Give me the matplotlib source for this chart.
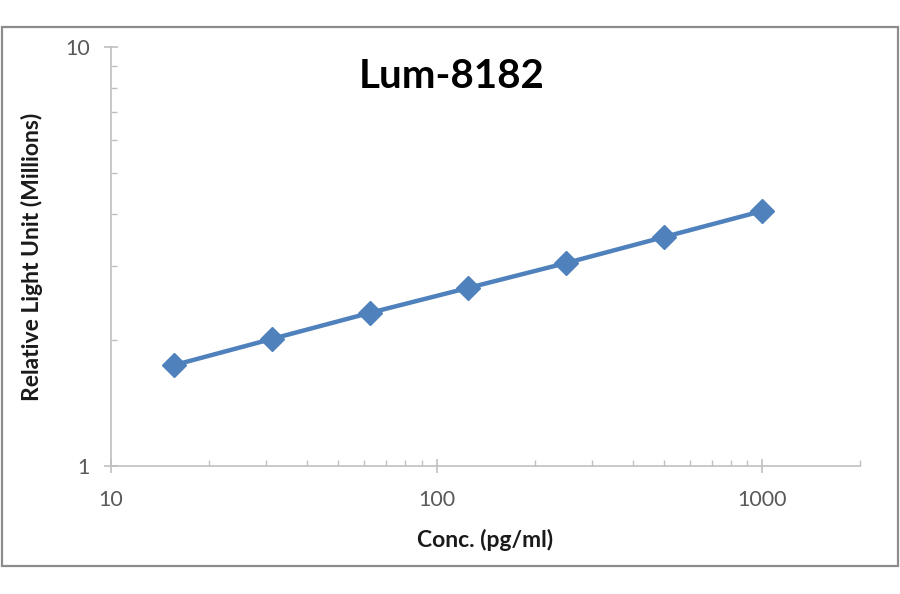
import matplotlib.pyplot as plt
from matplotlib.patches import Rectangle
from matplotlib.ticker import LogLocator, FixedLocator, NullFormatter

conc = [15.625, 31.25, 62.5, 125, 250, 500, 1000]
rlu = [1.74, 2.01, 2.32, 2.66, 3.05, 3.52, 4.06]
x_ticks = [10, 100, 1000]
x_tick_labels = ["10", "100", "1000"]
y_ticks = [1, 10]
y_tick_labels = ["1", "10"]

plt.rcParams['font.family'] = ['Lato', 'DejaVu Sans']

fig = plt.figure(figsize=(9, 5.94), dpi=100)
ax = fig.add_axes([0.123, 0.2155, 0.833, 0.7055])

# marco gris exterior
fig.patches.append(Rectangle((0.002, 0.047), 0.996, 0.908, transform=fig.transFigure,
                             fill=False, edgecolor="#8c8c8c", linewidth=1.6))

ax.plot(conc, rlu, color="#4F81BD", linewidth=3.2, marker="D", markersize=12,
        markerfacecolor="#4F81BD", markeredgecolor="#4F81BD")

ax.set_xscale("log")
ax.set_yscale("log")
ax.set_xlim(10, 2000)
ax.set_ylim(1, 10)

ax.xaxis.set_major_locator(FixedLocator(x_ticks))
ax.set_xticklabels(x_tick_labels)
ax.yaxis.set_major_locator(FixedLocator(y_ticks))
ax.set_yticklabels(y_tick_labels)
ax.xaxis.set_minor_locator(LogLocator(base=10, subs=range(2, 10), numticks=20))
ax.yaxis.set_minor_locator(LogLocator(base=10, subs=range(2, 10), numticks=20))
ax.xaxis.set_minor_formatter(NullFormatter())
ax.yaxis.set_minor_formatter(NullFormatter())

for side in ["top", "right"]:
    ax.spines[side].set_visible(False)
for side in ["left", "bottom"]:
    ax.spines[side].set_color("#c0c0c0")
    ax.spines[side].set_linewidth(1.2)

ax.tick_params(which="major", direction="inout", length=10, width=1.2,
               color="#c0c0c0", labelsize=15.5, labelcolor="#595959")
ax.tick_params(axis="x", which="major", pad=12)
ax.tick_params(axis="y", which="major", pad=10)
ax.tick_params(which="minor", direction="in", length=4, width=1, color="#c0c0c0")

ax.set_title("Lum-8182", fontsize=29, fontweight="bold", pad=-10, y=0.935, x=0.455)
ax.set_xlabel("Conc. (pg/ml)", fontsize=16.5, fontweight="bold", labelpad=14,
              color="#1a1a1a")
ax.set_ylabel("Relative Light Unit (Millions)", fontsize=16.5, fontweight="bold",
              labelpad=16, color="#1a1a1a")

fig.savefig("out.png", dpi=100)
